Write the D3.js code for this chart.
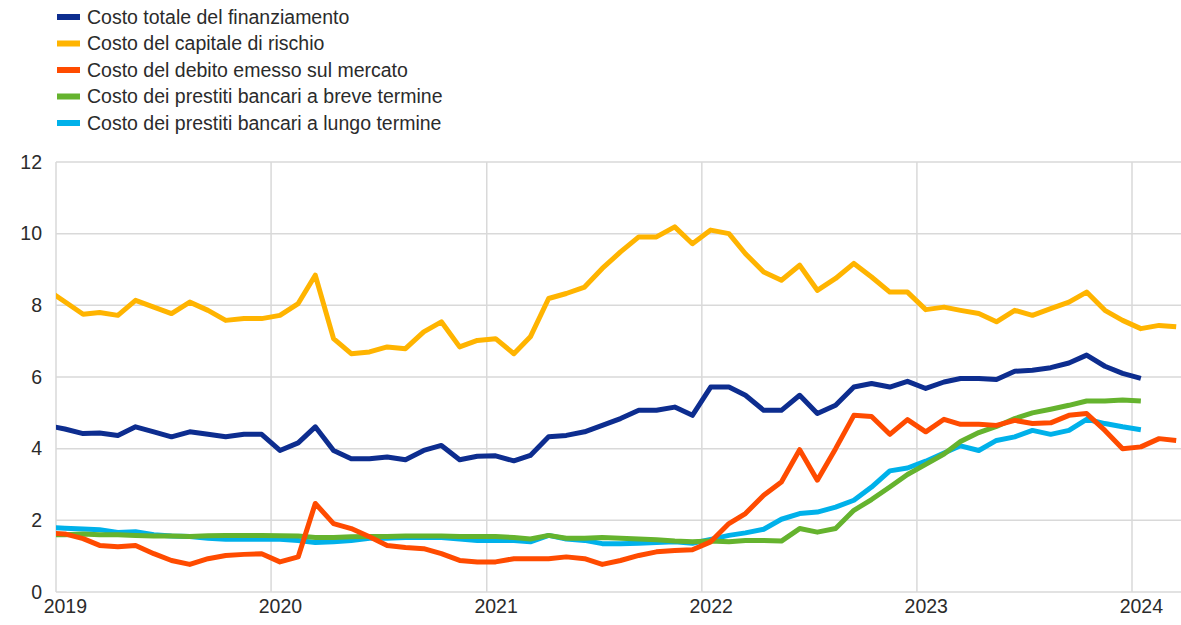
<!DOCTYPE html>
<html>
<head>
<meta charset="utf-8">
<script src="https://cdn.jsdelivr.net/npm/d3@7"></script>
<style>
  body { margin: 0; background: #fff; }
  svg { display: block; font-family: "Liberation Sans", Arial, sans-serif; }
</style>
</head>
<body>
<script>
  // monthly observations, Dec 2018 .. Mar 2024 (first point falls just left of the plot)
  var months = d3.timeMonth.range(new Date(2018, 11, 1), new Date(2024, 3, 1))
    .map(function(d) { return new Date(d.getFullYear(), d.getMonth(), 16); });

  var costoTotale = [4.65, 4.55, 4.42, 4.44, 4.37, 4.61, 4.47, 4.33, 4.47, 4.40, 4.33, 4.40, 4.40,
    3.95, 4.16, 4.61, 3.95, 3.72, 3.72, 3.77, 3.69, 3.95, 4.09, 3.69, 3.79,
    3.80, 3.66, 3.81, 4.33, 4.37, 4.47, 4.65, 4.84, 5.07, 5.07, 5.16, 4.93,
    5.72, 5.72, 5.49, 5.07, 5.07, 5.49, 4.98, 5.21, 5.72, 5.82, 5.72, 5.88,
    5.68, 5.86, 5.96, 5.96, 5.93, 6.16, 6.19, 6.26, 6.39, 6.61, 6.30, 6.10,
    5.96, null, null];

  var capitaleRischio = [8.45, 8.10, 7.75, 7.80, 7.72, 8.14, 7.95, 7.77, 8.09, 7.86, 7.58, 7.63, 7.63,
    7.72, 8.05, 8.84, 7.07, 6.65, 6.70, 6.84, 6.79, 7.26, 7.54, 6.84, 7.02,
    7.07, 6.65, 7.12, 8.19, 8.33, 8.51, 9.03, 9.49, 9.91, 9.91, 10.19, 9.72,
    10.10, 10.00, 9.44, 8.93, 8.70, 9.12, 8.42, 8.75, 9.17, 8.79, 8.37, 8.37,
    7.88, 7.95, 7.86, 7.77, 7.54, 7.86, 7.72, 7.91, 8.09, 8.37, 7.86, 7.58,
    7.35, 7.44, 7.40];

  var debitoMercato = [1.65, 1.62, 1.49, 1.30, 1.26, 1.30, 1.07, 0.88, 0.77, 0.93, 1.02, 1.05, 1.07,
    0.84, 0.98, 2.47, 1.91, 1.77, 1.54, 1.30, 1.24, 1.21, 1.07, 0.88, 0.84,
    0.84, 0.93, 0.93, 0.93, 0.98, 0.93, 0.77, 0.88, 1.02, 1.12, 1.16, 1.18,
    1.40, 1.91, 2.19, 2.70, 3.07, 3.97, 3.12, 4.00, 4.93, 4.90, 4.40, 4.81,
    4.47, 4.82, 4.68, 4.68, 4.65, 4.79, 4.70, 4.72, 4.93, 4.98, 4.51, 4.00,
    4.05, 4.28, 4.23];

  var prestitiBreve = [1.60, 1.60, 1.62, 1.60, 1.60, 1.58, 1.56, 1.56, 1.55, 1.57, 1.58, 1.58, 1.58,
    1.57, 1.56, 1.52, 1.52, 1.54, 1.55, 1.55, 1.56, 1.56, 1.56, 1.55, 1.55,
    1.55, 1.52, 1.48, 1.58, 1.50, 1.50, 1.52, 1.50, 1.48, 1.46, 1.42, 1.40,
    1.42, 1.40, 1.44, 1.44, 1.42, 1.77, 1.67, 1.77, 2.28, 2.58, 2.93, 3.28,
    3.56, 3.85, 4.20, 4.45, 4.62, 4.84, 5.00, 5.10, 5.21, 5.33, 5.33, 5.36,
    5.33, null, null];

  var prestitiLungo = [1.80, 1.78, 1.76, 1.74, 1.66, 1.68, 1.60, 1.56, 1.55, 1.50, 1.47, 1.47, 1.47,
    1.47, 1.44, 1.38, 1.40, 1.44, 1.50, 1.50, 1.52, 1.52, 1.52, 1.48, 1.44,
    1.44, 1.44, 1.40, 1.58, 1.48, 1.44, 1.35, 1.35, 1.36, 1.38, 1.40, 1.36,
    1.47, 1.58, 1.65, 1.75, 2.03, 2.19, 2.23, 2.37, 2.56, 2.93, 3.38, 3.46,
    3.65, 3.88, 4.08, 3.95, 4.23, 4.33, 4.51, 4.40, 4.51, 4.82, 4.70, 4.61,
    4.53, null, null];

  var seriesNames = [
    "Costo totale del finanziamento",
    "Costo del capitale di rischio",
    "Costo del debito emesso sul mercato",
    "Costo dei prestiti bancari a breve termine",
    "Costo dei prestiti bancari a lungo termine"
  ];
  var seriesColors = ["#0d2d8f", "#ffb400", "#ff4b00", "#65b32e", "#00b1ea"];
  var yTicks = [0, 2, 4, 6, 8, 10, 12];
  var xTickYears = [2019, 2020, 2021, 2022, 2023, 2024];

  var seriesValues = [costoTotale, capitaleRischio, debitoMercato, prestitiBreve, prestitiLungo];
  // draw order: yellow, blue, cyan, green, orange on top
  var drawOrder = [1, 0, 4, 3, 2];

  var width = 1181, height = 625;
  var plotLeft = 56, plotRight = 1181, plotTop = 162, plotBottom = 592;
  var fontFamily = '"Liberation Sans", Arial, sans-serif';

  var svg = d3.select('body').append('svg')
    .attr('width', width)
    .attr('height', height);

  var x = d3.scaleTime()
    .domain([new Date(2019, 0, 1), new Date(2024, 0, 1)])
    .range([plotLeft, 1132]);

  var y = d3.scaleLinear()
    .domain([0, 12])
    .range([plotBottom, plotTop]);

  // gridlines
  svg.append('g')
    .selectAll('line')
    .data(yTicks)
    .enter()
    .append('line')
      .attr('x1', plotLeft)
      .attr('x2', plotRight)
      .attr('y1', function(d) { return y(d); })
      .attr('y2', function(d) { return y(d); })
      .attr('stroke', '#d9d9d9')
      .attr('stroke-width', 1.5);

  svg.append('g')
    .selectAll('line')
    .data(xTickYears)
    .enter()
    .append('line')
      .attr('x1', function(d) { return x(new Date(d, 0, 1)); })
      .attr('x2', function(d) { return x(new Date(d, 0, 1)); })
      .attr('y1', plotTop)
      .attr('y2', plotBottom)
      .attr('stroke', '#d9d9d9')
      .attr('stroke-width', 1.5);

  // y axis labels
  var yAxis = svg.append('g')
    .attr('transform', 'translate(' + (plotLeft - 14) + ',0)')
    .call(d3.axisLeft(y).tickValues(yTicks).tickSize(0).tickPadding(0));
  yAxis.select('.domain').remove();
  yAxis.selectAll('text')
    .attr('font-size', 19.5)
    .attr('font-family', fontFamily)
    .attr('fill', '#2b2b2b');

  // x axis labels, centred on the January point of each year
  var xAxis = svg.append('g')
    .attr('transform', 'translate(0,' + plotBottom + ')')
    .call(d3.axisBottom(x)
      .tickValues(xTickYears.map(function(d) { return new Date(d, 0, 16); }))
      .tickFormat(d3.timeFormat('%Y'))
      .tickSize(0)
      .tickPadding(7));
  xAxis.select('.domain').remove();
  xAxis.selectAll('text')
    .attr('font-size', 19.5)
    .attr('font-family', fontFamily)
    .attr('fill', '#2b2b2b');

  // lines
  svg.append('clipPath')
    .attr('id', 'plot-clip')
    .append('rect')
      .attr('x', plotLeft)
      .attr('y', 0)
      .attr('width', plotRight - plotLeft)
      .attr('height', height);

  var line = d3.line()
    .defined(function(d) { return d.v != null; })
    .x(function(d) { return x(d.date); })
    .y(function(d) { return y(d.v); });

  svg.append('g')
    .attr('clip-path', 'url(#plot-clip)')
    .selectAll('path')
    .data(drawOrder)
    .enter()
    .append('path')
      .attr('d', function(s) {
        return line(seriesValues[s].map(function(v, i) { return { date: months[i], v: v }; }));
      })
      .attr('fill', 'none')
      .attr('stroke', function(s) { return seriesColors[s]; })
      .attr('stroke-width', 5)
      .attr('stroke-linejoin', 'round');

  // legend
  var legend = svg.append('g')
    .selectAll('g')
    .data(seriesNames)
    .enter()
    .append('g')
      .attr('transform', function(d, i) { return 'translate(57,' + (17 + i * 26.5) + ')'; });

  legend.append('rect')
    .attr('x', 0)
    .attr('y', -3)
    .attr('width', 23)
    .attr('height', 6)
    .attr('fill', function(d, i) { return seriesColors[i]; });

  legend.append('text')
    .attr('x', 30)
    .attr('y', 0)
    .attr('dy', '0.35em')
    .attr('font-size', 19.5)
    .attr('font-family', fontFamily)
    .attr('fill', '#2b2b2b')
    .text(function(d) { return d; });
</script>
</body>
</html>
